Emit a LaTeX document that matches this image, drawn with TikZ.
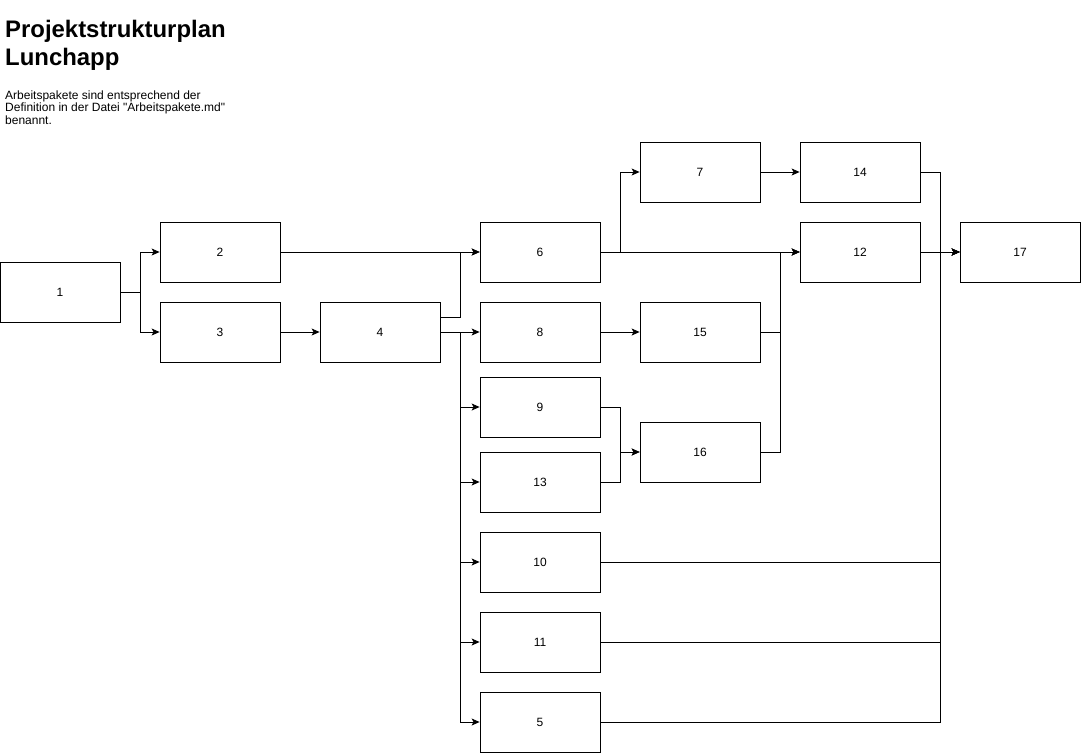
\documentclass[tikz,border=0pt]{standalone}
\usepackage{fontspec}
\setmainfont{Liberation Sans}[Ligatures=TeXOff]
\usetikzlibrary{arrows.meta}
\begin{document}
\begin{tikzpicture}[x=1pt,y=-1pt,
  box/.style={draw,line width=0.8pt,minimum width=120pt,minimum height=60pt,inner sep=0pt,font=\fontsize{12}{13}\selectfont},
  conn/.style={line width=0.8pt},
  arr/.style={conn,-{Stealth[length=8pt,width=7pt,inset=2pt]}}]
\useasboundingbox (0,0) rectangle (1081,753);
\node[anchor=base west,align=left,inner sep=0pt,font=\fontsize{23.9}{28.5}\selectfont\bfseries] (title) at (5,65.5) {Projektstrukturplan\\Lunchapp};
\node[anchor=base west,align=left,inner sep=0pt,font=\fontsize{12}{12.5}\selectfont] (desc) at (5,124) {Arbeitspakete sind entsprechend der\\Definition in der Datei "Arbeitspakete.md"\\benannt.};
\node[box] (n1) at (60,292) {1};
\node[box] (n2) at (220,252) {2};
\node[box] (n3) at (220,332) {3};
\node[box] (n4) at (380,332) {4};
\node[box] (n6) at (540,252) {6};
\node[box] (n7) at (700,172) {7};
\node[box] (n14) at (860,172) {14};
\node[box] (n12) at (860,252) {12};
\node[box] (n17) at (1020,252) {17};
\node[box] (n8) at (540,332) {8};
\node[box] (n15) at (700,332) {15};
\node[box] (n9) at (540,407) {9};
\node[box] (n13) at (540,482) {13};
\node[box] (n16) at (700,452) {16};
\node[box] (n10) at (540,562) {10};
\node[box] (n11) at (540,642) {11};
\node[box] (n5) at (540,722) {5};
% 1 -> 2, 3
\draw[arr] (n1.east) -- ++(20,0) |- (n2.west);
\draw[arr] (n1.east) -- ++(20,0) |- (n3.west);
% 2 -> 6
\draw[arr] (n2.east) -- (n6.west);
% 3 -> 4
\draw[arr] (n3.east) -- (n4.west);
% 4 -> 6
\draw[arr] ([yshift=15pt]n4.east) -- ++(20,0) |- (n6.west);
% 4 -> 8,9,13,10,11,5
\draw[arr] (n4.east) -- (n8.west);
\draw[arr] (n4.east) -- ++(20,0) |- (n9.west);
\draw[arr] (n4.east) -- ++(20,0) |- (n13.west);
\draw[arr] (n4.east) -- ++(20,0) |- (n10.west);
\draw[arr] (n4.east) -- ++(20,0) |- (n11.west);
\draw[arr] (n4.east) -- ++(20,0) |- (n5.west);
% 6 -> 7, 12
\draw[arr] (n6.east) -- ++(20,0) |- (n7.west);
\draw[arr] (n6.east) -- (n12.west);
% 7 -> 14
\draw[arr] (n7.east) -- (n14.west);
% 8 -> 15
\draw[arr] (n8.east) -- (n15.west);
% 15, 16 -> 12
\draw[arr] (n15.east) -- ++(20,0) |- (n12.west);
\draw[arr] (n16.east) -- ++(20,0) |- (n12.west);
% 9, 13 -> 16
\draw[arr] (n9.east) -- ++(20,0) |- (n16.west);
\draw[arr] (n13.east) -- ++(20,0) |- (n16.west);
% -> 17
\draw[arr] (n12.east) -- (n17.west);
\draw[arr] (n14.east) -- ++(20,0) |- (n17.west);
\draw[arr] (n10.east) -- ++(340,0) |- (n17.west);
\draw[arr] (n11.east) -- ++(340,0) |- (n17.west);
\draw[arr] (n5.east) -- ++(340,0) |- (n17.west);
\end{tikzpicture}
\end{document}
